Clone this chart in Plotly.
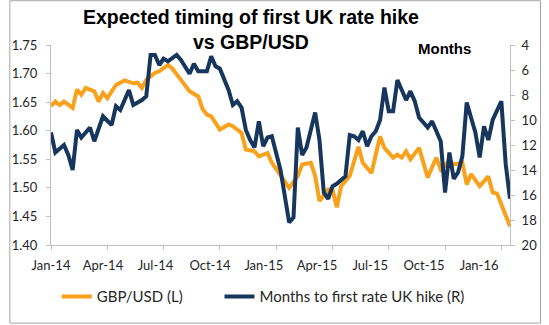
import pandas as pd
import plotly.graph_objects as go

start = pd.Timestamp("2014-01-03")

# GBP/USD (left axis) - week offsets from 3 Jan 2014 and values
gbp_week = [0, 1, 2, 3, 5, 6, 7, 8, 10, 11, 12, 13, 15, 17, 19, 20, 21, 22, 24, 25, 27, 28, 30, 32, 34, 35,
            36, 37, 39, 41, 42, 44, 45, 47, 48, 50, 51, 53, 54, 55, 57, 58, 60, 61, 62, 64, 65, 66, 67, 69,
            71, 72, 74, 76, 77, 79, 80, 81, 82, 83, 85, 87, 89, 90, 92, 93, 95, 96, 97, 99, 101, 102, 103,
            104, 105, 106]
gbp_val = [1.643, 1.651, 1.645, 1.651, 1.640, 1.672, 1.663, 1.675, 1.669, 1.651, 1.666, 1.657, 1.680, 1.688,
           1.683, 1.684, 1.675, 1.689, 1.701, 1.704, 1.715, 1.709, 1.689, 1.669, 1.660, 1.638, 1.628, 1.625,
           1.602, 1.611, 1.608, 1.596, 1.567, 1.564, 1.555, 1.561, 1.544, 1.521, 1.512, 1.500, 1.521, 1.541,
           1.544, 1.521, 1.477, 1.497, 1.497, 1.466, 1.503, 1.521, 1.572, 1.544, 1.526, 1.590, 1.570, 1.553,
           1.558, 1.553, 1.564, 1.550, 1.570, 1.518, 1.553, 1.532, 1.547, 1.541, 1.544, 1.506, 1.524, 1.503,
           1.520, 1.492, 1.490, 1.470, 1.450, 1.433]

# Months to first UK rate hike (right axis, reversed)
mon_week = [0, 1, 3, 4, 5, 6, 7, 9, 10, 12, 14, 15, 16, 18, 19, 20, 21, 22, 23, 24, 25, 26, 27, 29, 30, 32,
            33, 34, 36, 37, 38, 39, 41, 42, 43, 44, 45, 46, 47, 48, 49, 50, 51, 53, 54, 55, 56, 57, 58, 59,
            61, 62, 63, 64, 65, 66, 68, 69, 70, 71, 72, 73, 74, 75, 76, 77, 78, 79, 80, 81, 82, 83, 84, 85,
            87, 88, 89, 90, 91, 92, 93, 94, 95, 96, 98, 99, 100, 101, 102, 104, 105, 106]
mon_val = [11.0, 12.6, 12.0, 12.8, 14.0, 10.8, 11.4, 10.6, 11.7, 9.7, 10.4, 8.9, 9.2, 7.6, 8.8, 8.6, 8.4, 8.1,
           4.8, 4.8, 5.6, 5.1, 5.3, 4.8, 5.2, 6.3, 5.5, 6.1, 6.1, 4.9, 5.7, 5.9, 7.6, 8.8, 8.5, 9.0, 10.8,
           11.6, 12.2, 10.1, 12.1, 11.4, 11.3, 14.0, 16.2, 18.2, 17.8, 10.6, 12.8, 12.2, 9.4, 11.6, 15.8,
           16.3, 15.3, 15.1, 14.5, 11.2, 11.3, 11.6, 10.9, 12.1, 11.3, 10.9, 10.0, 7.4, 9.3, 9.3, 6.8, 7.6,
           8.4, 7.7, 8.5, 9.8, 10.6, 10.1, 11.0, 11.7, 15.8, 12.6, 14.7, 14.2, 12.9, 8.6, 11.0, 13.0, 10.5,
           11.6, 10.0, 8.5, 13.5, 16.3]

tick_labels = ["Jan-14", "Apr-14", "Jul-14", "Oct-14", "Jan-15", "Apr-15", "Jul-15", "Oct-15", "Jan-16"]
label_dates = ["2014-01-03", "2014-03-28", "2014-06-21", "2014-09-17", "2014-12-13",
               "2015-03-09", "2015-06-03", "2015-08-29", "2015-11-26"]
quarter_ticks = ["2014-01-03", "2014-04-04", "2014-07-04", "2014-10-03", "2015-01-02",
                 "2015-04-03", "2015-07-03", "2015-10-02", "2016-01-01"]

gbp_dates = [start + pd.Timedelta(weeks=w) for w in gbp_week]
mon_dates = [start + pd.Timedelta(weeks=w) for w in mon_week]

ORANGE = "#F9A11B"
NAVY = "#17365D"
AX = "#BFBFBF"
TXT = "#262626"
LAB_FONT = "Lato"

fig = go.Figure()
fig.add_trace(go.Scatter(x=gbp_dates, y=gbp_val, mode="lines", name="GBP/USD (L)",
                         line=dict(color=ORANGE, width=4), legend="legend"))
fig.add_trace(go.Scatter(x=mon_dates, y=mon_val, mode="lines", name="Months to first rate UK hike (R)",
                         line=dict(color=NAVY, width=4), yaxis="y2", legend="legend2"))

L, R, T, B = 43, 32, 45, 79
W, H = 549, 325
pw, ph = W - L - R, H - T - B
leg_y = -(298 - (T + ph)) / ph
leg_font = dict(family=LAB_FONT, size=15, color=TXT)

fig.update_layout(
    width=W, height=H,
    margin=dict(l=L, r=R, t=T, b=B),
    paper_bgcolor="white", plot_bgcolor="white",
    showlegend=True,
    legend=dict(orientation="h", x=(49 - L) / pw, xanchor="left", y=leg_y, yanchor="middle",
                font=leg_font, bgcolor="rgba(0,0,0,0)"),
    legend2=dict(orientation="h", x=(217 - L) / pw, xanchor="left", y=leg_y, yanchor="middle",
                 font=leg_font, bgcolor="rgba(0,0,0,0)"),
    xaxis=dict(type="date", range=["2014-01-03", "2016-01-15"], showgrid=False, zeroline=False,
               showline=True, linecolor=AX, linewidth=1,
               tickmode="array", tickvals=label_dates, ticktext=tick_labels, ticks="",
               ticklabelstandoff=8,
               minor=dict(tickmode="array", tickvals=quarter_ticks, ticks="outside", ticklen=4,
                          tickcolor=AX, showgrid=False),
               tickfont=dict(family=LAB_FONT, size=13, color=TXT)),
    yaxis=dict(range=[1.40, 1.75], dtick=0.05, tickformat=".2f", showgrid=False, zeroline=False,
               showline=True, linecolor=AX, linewidth=1, ticks="outside", ticklen=4, tickcolor=AX,
               ticklabelstandoff=6,
               tickfont=dict(family=LAB_FONT, size=13, color=TXT)),
    yaxis2=dict(range=[20, 4], dtick=2, overlaying="y", side="right", showgrid=False, zeroline=False,
                showline=True, linecolor=AX, linewidth=1, ticks="outside", ticklen=4, tickcolor=AX,
                ticklabelstandoff=4,
                tickfont=dict(family=LAB_FONT, size=13, color=TXT)),
    annotations=[
        dict(text="<b>Expected timing of first UK rate hike<br>vs GBP/USD</b>", xref="paper", yref="paper",
             x=(250 - L) / pw, y=1 + (T - 4) / ph, xanchor="center", yanchor="top", showarrow=False,
             font=dict(family="Liberation Sans", size=19.5, color="black")),
        dict(text="<b>Months</b>", xref="paper", yref="paper", x=(449 - L) / pw, y=1 - (49 - T) / ph,
             xanchor="center", yanchor="middle", showarrow=False,
             font=dict(family="Liberation Sans", size=15, color="black")),
    ],
    shapes=[dict(type="rect", xref="paper", yref="paper",
                 x0=(0.5 - L) / pw, x1=1 + (R - 0.5) / pw, y0=-(B - 0.5) / ph, y1=1 + (T - 0.5) / ph,
                 line=dict(color="#A6A6A6", width=1), layer="below")],
)

fig.write_html("out.html")
